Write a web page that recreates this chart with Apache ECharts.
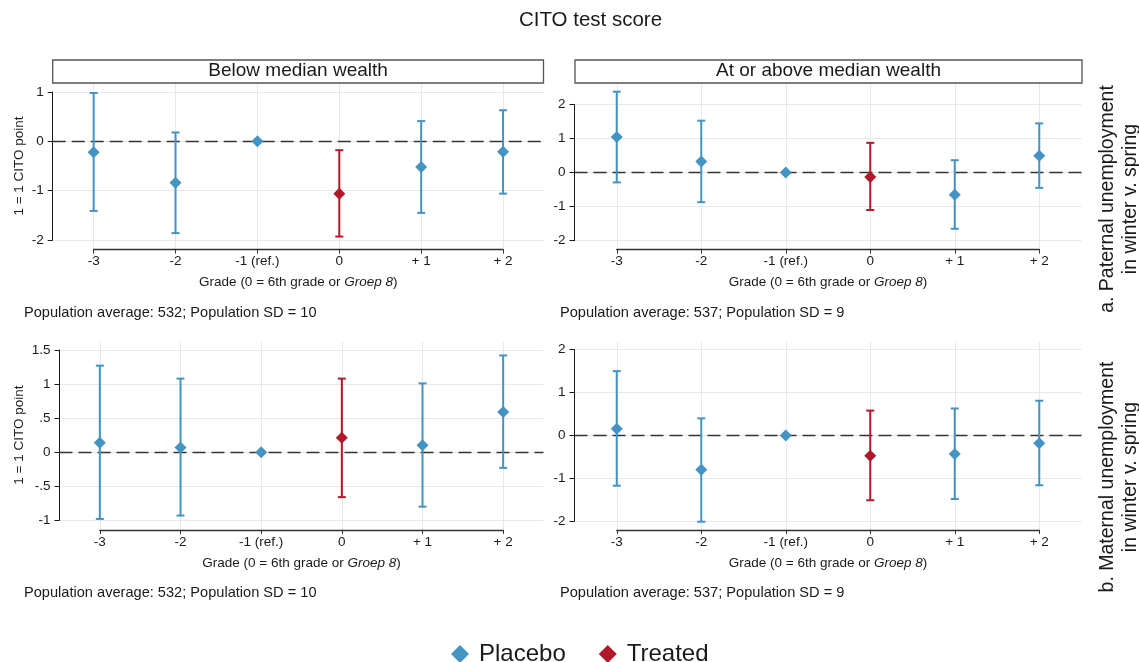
<!DOCTYPE html>
<html>
<head>
<meta charset="utf-8">
<script src="https://cdn.jsdelivr.net/npm/echarts@6/dist/echarts.min.js"></script>
<style>
  html, body { margin: 0; padding: 0; background: #fff; }
  #chart { width: 1139px; height: 662px; }
</style>
</head>
<body>
<div id="chart"></div>
<script>
// Grades relative to the CITO year (0 = 6th grade / Groep 8); -1 is the reference.
const grades = [-3, -2, -1, 0, 1, 2];
const gradeLabels = ['-3', '-2', '-1 (ref.)', '0', '+ 1', '+ 2'];
const treatedGrade = 0;

const columnTitles = ['Below median wealth', 'At or above median wealth'];
const rowTitles = ['a. Paternal unemployment\nin winter v. spring', 'b. Maternal unemployment\nin winter v. spring'];
const populationNotes = ['Population average: 532; Population SD = 10', 'Population average: 537; Population SD = 9'];

// Paternal unemployment, below median wealth
const patBelowEst = [-0.22, -0.84, 0, -1.06, -0.52, -0.21];
const patBelowLo  = [-1.41, -1.86, 0, -1.93, -1.45, -1.06];
const patBelowHi  = [ 0.98,  0.18, 0, -0.18,  0.41,  0.63];
const patBelowTicks = [-2, -1, 0, 1];

// Paternal unemployment, at or above median wealth
const patAboveEst = [ 1.04,  0.32, 0, -0.13, -0.65,  0.49];
const patAboveLo  = [-0.29, -0.87, 0, -1.10, -1.65, -0.45];
const patAboveHi  = [ 2.37,  1.52, 0,  0.87,  0.36,  1.44];
const patAboveTicks = [-2, -1, 0, 1, 2];

// Maternal unemployment, below median wealth
const matBelowEst = [ 0.14,  0.07, 0,  0.21,  0.10,  0.59];
const matBelowLo  = [-0.98, -0.93, 0, -0.66, -0.80, -0.23];
const matBelowHi  = [ 1.27,  1.08, 0,  1.08,  1.01,  1.42];
const matBelowTicks = [-1, -0.5, 0, 0.5, 1, 1.5];

// Maternal unemployment, at or above median wealth
const matAboveEst = [ 0.16, -0.80, 0, -0.47, -0.43, -0.18];
const matAboveLo  = [-1.17, -2.01, 0, -1.51, -1.48, -1.16];
const matAboveHi  = [ 1.50,  0.40, 0,  0.58,  0.63,  0.81];
const matAboveTicks = [-2, -1, 0, 1, 2];

const FONT = '"Liberation Sans", Arial, Helvetica, sans-serif';
const BLUE = '#4393c3';
const RED = '#b2182b';
const GRIDC = '#e8e8e8';
const INK = '#1a1a1a';

// Pixel frame of each panel: plot left/right, y positions of first/last tick,
// plot top, and the offset x-axis line.
const panels = [
  { est: patBelowEst, lo: patBelowLo, hi: patBelowHi, ticks: patBelowTicks, yName: true,
    box: { L: 52.7, R: 544, top: 92, bot: 240, plotTop: 83, axisY: 249.6 } },
  { est: patAboveEst, lo: patAboveLo, hi: patAboveHi, ticks: patAboveTicks, yName: false,
    box: { L: 574.5, R: 1081.5, top: 104.3, bot: 240.7, plotTop: 83, axisY: 249.6 } },
  { est: matBelowEst, lo: matBelowLo, hi: matBelowHi, ticks: matBelowTicks, yName: true,
    box: { L: 59.5, R: 543.5, top: 350, bot: 520.3, plotTop: 342, axisY: 530 } },
  { est: matAboveEst, lo: matAboveLo, hi: matAboveHi, ticks: matAboveTicks, yName: false,
    box: { L: 574.5, R: 1081.5, top: 349.7, bot: 521.3, plotTop: 342, axisY: 530 } }
];

function yTickLabel(v) {
  const s = String(Math.round(v * 100) / 100);
  return s.replace(/^(-?)0\./, '$1.');
}

function renderCI(params, api) {
  const x = api.value(0), lo = api.value(1), hi = api.value(2);
  if (lo === hi) return null;
  const a = api.coord([x, hi]);
  const b = api.coord([x, lo]);
  const w = 4;
  const style = { stroke: api.visual('color'), lineWidth: 2 };
  return {
    type: 'group',
    children: [
      { type: 'line', shape: { x1: a[0], y1: a[1], x2: b[0], y2: b[1] }, style },
      { type: 'line', shape: { x1: a[0] - w, y1: a[1], x2: a[0] + w, y2: a[1] }, style },
      { type: 'line', shape: { x1: b[0] - w, y1: b[1], x2: b[0] + w, y2: b[1] }, style }
    ]
  };
}

const grid = [], xAxis = [], yAxis = [], series = [];

panels.forEach((p) => {
  const b = p.box;
  const unit = (b.R - b.L) / grades.length;
  const gv = grid.length;

  // value grid: spans the tick range of the y axis
  grid.push({ left: b.L, top: b.top, width: b.R - b.L, height: b.bot - b.top });
  // axis grid: spans grade -3..+2, from plot top down to the offset x axis
  grid.push({ left: b.L + unit / 2, top: b.plotTop, width: unit * (grades.length - 1), height: b.axisY - b.plotTop });

  xAxis.push({
    gridIndex: gv, type: 'value',
    min: grades[0] - 0.5, max: grades[grades.length - 1] + 0.5,
    show: false
  });
  yAxis.push({
    gridIndex: gv, type: 'value', position: 'left',
    min: p.ticks[0], max: p.ticks[p.ticks.length - 1], interval: p.ticks[1] - p.ticks[0],
    axisLine: { show: true, onZero: false, lineStyle: { color: INK, width: 1 } },
    axisTick: { show: true, length: 5, lineStyle: { color: INK, width: 1 } },
    axisLabel: { color: INK, fontFamily: FONT, fontSize: 13.5, margin: 9, formatter: yTickLabel },
    splitLine: { show: true, lineStyle: { color: GRIDC, width: 1 } },
    name: p.yName ? '1 = 1 CITO point' : '',
    nameLocation: 'middle',
    nameGap: b.L - 26,
    nameTextStyle: { color: INK, fontFamily: FONT, fontSize: 13.5 }
  });
  xAxis.push({
    gridIndex: gv + 1, type: 'value',
    min: grades[0], max: grades[grades.length - 1], interval: 1,
    position: 'bottom',
    axisLine: { show: true, onZero: false, lineStyle: { color: '#333', width: 1.4 } },
    axisTick: { show: true, length: 4, lineStyle: { color: '#333', width: 1 } },
    axisLabel: {
      color: INK, fontFamily: FONT, fontSize: 13.5, margin: 5,
      formatter: (v) => gradeLabels[grades.indexOf(v)]
    },
    splitLine: { show: true, lineStyle: { color: GRIDC, width: 1 } },
    name: 'Grade (0 = 6th grade or {i|Groep 8})',
    nameLocation: 'middle',
    nameGap: 26,
    nameTextStyle: {
      color: INK, fontFamily: FONT, fontSize: 13.5,
      rich: { i: { fontStyle: 'italic', fontFamily: FONT, fontSize: 13.5, color: INK } }
    }
  });
  yAxis.push({ gridIndex: gv + 1, type: 'value', min: 0, max: 1, show: false });

  const placeboCI = [], treatedCI = [], placeboPts = [], treatedPts = [];
  grades.forEach((g, k) => {
    if (g === treatedGrade) {
      treatedCI.push([g, p.lo[k], p.hi[k]]);
      treatedPts.push([g, p.est[k]]);
    } else {
      placeboCI.push([g, p.lo[k], p.hi[k]]);
      placeboPts.push([g, p.est[k]]);
    }
  });

  series.push({
    type: 'line', name: 'zero', xAxisIndex: gv, yAxisIndex: gv, data: [],
    silent: true, z: 1,
    markLine: {
      silent: true, symbol: 'none', z: 1, animation: false,
      label: { show: false },
      lineStyle: { color: '#333', width: 1.3, type: [13, 6] },
      data: [{ yAxis: 0 }]
    }
  });
  series.push({
    type: 'custom', name: 'Placebo CI', xAxisIndex: gv, yAxisIndex: gv,
    renderItem: renderCI, data: placeboCI, itemStyle: { color: BLUE },
    encode: { x: 0, y: [1, 2] }, z: 3, silent: true
  });
  series.push({
    type: 'custom', name: 'Treated CI', xAxisIndex: gv, yAxisIndex: gv,
    renderItem: renderCI, data: treatedCI, itemStyle: { color: RED },
    encode: { x: 0, y: [1, 2] }, z: 3, silent: true
  });
  series.push({
    type: 'scatter', name: 'Placebo', xAxisIndex: gv, yAxisIndex: gv,
    symbol: 'diamond', symbolSize: 12, clip: false,
    itemStyle: { color: BLUE, opacity: 1 }, data: placeboPts, z: 4
  });
  series.push({
    type: 'scatter', name: 'Treated', xAxisIndex: gv, yAxisIndex: gv,
    symbol: 'diamond', symbolSize: 12, clip: false,
    itemStyle: { color: RED, opacity: 1 }, data: treatedPts, z: 4
  });
});

// Strip headers, notes, row labels and title
const graphic = [];
graphic.push({
  type: 'text', x: 590.5, y: 20,
  style: { text: 'CITO test score', font: '20.5px ' + FONT, fill: INK, align: 'center', verticalAlign: 'middle' }
});
[[52.7, 543.5], [575, 1082]].forEach((span, c) => {
  graphic.push({
    type: 'rect', shape: { x: span[0], y: 60, width: span[1] - span[0], height: 23 },
    style: { fill: '#fff', stroke: '#555', lineWidth: 1.3 }, z: 10
  });
  graphic.push({
    type: 'text', x: (span[0] + span[1]) / 2, y: 71, z: 11,
    style: { text: columnTitles[c], font: '19px ' + FONT, fill: INK, align: 'center', verticalAlign: 'middle' }
  });
});
[[24, 313], [560, 313], [24, 593], [560, 593]].forEach((pos, k) => {
  graphic.push({
    type: 'text', x: pos[0], y: pos[1],
    style: { text: populationNotes[k % 2], font: '14.6px ' + FONT, fill: INK, align: 'left', verticalAlign: 'middle' }
  });
});
[[1119, 199], [1119, 477]].forEach((pos, r) => {
  graphic.push({
    type: 'text', x: pos[0], y: pos[1], rotation: Math.PI / 2,
    style: { text: rowTitles[r], font: '19.5px ' + FONT, fill: INK, align: 'center', verticalAlign: 'middle', lineHeight: 23 }
  });
});

const chart = echarts.init(document.getElementById('chart'), null, { renderer: 'canvas' });
chart.setOption({
  animation: false,
  backgroundColor: '#fff',
  textStyle: { fontFamily: FONT },
  grid, xAxis, yAxis, series, graphic,
  legend: {
    data: [{ name: 'Placebo', icon: 'diamond' }, { name: 'Treated', icon: 'diamond' }],
    left: 446, top: 637,
    itemWidth: 18, itemHeight: 18, itemGap: 33,
    textStyle: { fontFamily: FONT, fontSize: 24, color: INK, padding: [0, 0, 0, 5] },
    selectedMode: false
  }
});
</script>
</body>
</html>
